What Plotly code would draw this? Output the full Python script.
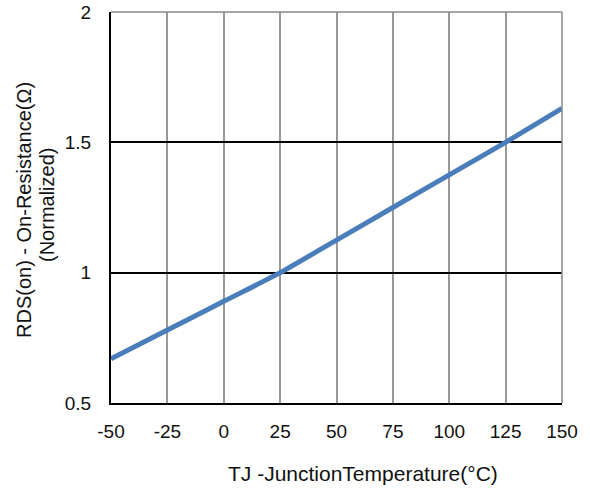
import plotly.graph_objects as go

temps = [-50, -25, 0, 25, 50, 75, 100, 125, 150]
rds_norm = [0.67, 0.78, 0.89, 1.0, 1.125, 1.25, 1.375, 1.5, 1.63]

x_ticks = [-50, -25, 0, 25, 50, 75, 100, 125, 150]
x_tick_text = ["-50", "-25", "0", "25", "50", "75", "100", "125", "150"]
y_ticks = [0.5, 1, 1.5, 2]
y_tick_text = ["0.5", "1", "1.5", "2"]

x_title = "TJ -JunctionTemperature(°C)"
y_title_1 = "RDS(on) - On-Resistance(Ω)"
y_title_2 = "(Normalized)"

W, H = 590, 488
L, R, T, B = 111, 28, 12, 85
pw, ph = W - L - R, H - T - B

fig = go.Figure()
fig.add_trace(go.Scatter(
    x=temps, y=rds_norm, mode="lines",
    line=dict(color="#4a7ebb", width=5, shape="spline", smoothing=0.6),
    showlegend=False,
))

font_family = "Liberation Sans, Arial, sans-serif"
fig.update_layout(
    width=W, height=H,
    margin=dict(l=L, r=R, t=T, b=B),
    paper_bgcolor="white", plot_bgcolor="white",
    font=dict(family=font_family, color="#111111"),
    xaxis=dict(
        range=[-50, 150], tickvals=x_ticks, ticktext=x_tick_text,
        ticks="outside", ticklen=10, tickcolor="rgba(0,0,0,0)",
        showgrid=True, gridcolor="#999999", gridwidth=1.5,
        showline=True, linecolor="black", linewidth=2,
        zeroline=False, automargin=False,
        tickfont=dict(size=19),
    ),
    yaxis=dict(
        range=[0.5, 2], tickvals=y_ticks, ticktext=y_tick_text,
        ticks="outside", ticklen=14, tickcolor="rgba(0,0,0,0)",
        showgrid=True, gridcolor="black", gridwidth=1.5,
        showline=True, linecolor="black", linewidth=2,
        zeroline=False, automargin=False,
        tickfont=dict(size=19),
    ),
)

# gray frame on top and right edges
fig.add_shape(type="line", xref="paper", yref="paper", x0=0, x1=1, y0=1, y1=1,
              line=dict(color="#888888", width=1.5))
fig.add_shape(type="line", xref="paper", yref="paper", x0=1, x1=1, y0=0, y1=1,
              line=dict(color="#888888", width=1.5))

# axis titles (positions in figure pixels)
fig.add_annotation(text=x_title, xref="paper", yref="paper",
                   x=(363 - L) / pw, y=0, yshift=-(473 - (H - B)),
                   xanchor="center", yanchor="middle", showarrow=False,
                   font=dict(size=21, family=font_family))
fig.add_annotation(text=y_title_1, xref="paper", yref="paper",
                   x=0, xshift=24 - L, y=(H - B - 210) / ph,
                   xanchor="center", yanchor="middle", textangle=-90, showarrow=False,
                   font=dict(size=20, family=font_family))
fig.add_annotation(text=y_title_2, xref="paper", yref="paper",
                   x=0, xshift=47 - L, y=(H - B - 205) / ph,
                   xanchor="center", yanchor="middle", textangle=-90, showarrow=False,
                   font=dict(size=20, family=font_family))

# remove the default 8px body margin so the figure sits at the page origin
fig.write_html("out.html", config={"displayModeBar": False},
               post_script="document.body.style.margin='0';")
